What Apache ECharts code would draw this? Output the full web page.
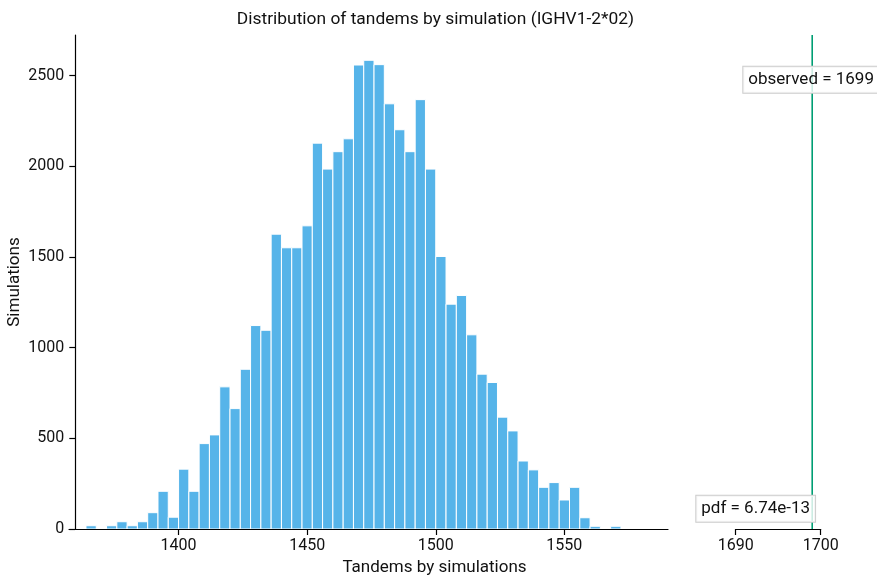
<!DOCTYPE html>
<html>
<head>
<meta charset="utf-8">
<script src="https://cdn.jsdelivr.net/npm/echarts@6/dist/echarts.min.js"></script>
<style>
html,body{margin:0;padding:0;background:#fff;}
#chart{width:877px;height:578px;}
</style>
</head>
<body>
<div id="chart"></div>
<script>
// ---- data ----
const binEdges = [1364,1368,1372,1376,1380,1384,1388,1392,1396,1400,1404,1408,1412,1416,1420,1424,1428,1432,1436,1440,1444,1448,1452,1456,1460,1464,1468,1472,1476,1480,1484,1488,1492,1496,1500,1504,1508,1512,1516,1520,1524,1528,1532,1536,1540,1544,1548,1552,1556,1560,1564,1568,1572];
const counts = [18,0,18,40,18,40,90,208,65,330,208,471,519,784,664,881,1122,1096,1626,1551,1551,1672,2128,1985,2081,2152,2559,2585,2561,2345,2202,2081,2368,1985,1503,1240,1288,1071,854,808,617,541,375,326,230,256,160,230,62,15,0,15];
const mainTicks = [1400,1450,1500,1550];
const sideTicks = [1690,1700];
const yTicks = [0,500,1000,1500,2000,2500];
const observed = 1699;
const pdfText = 'pdf = 6.74e-13';
const titleText = 'Distribution of tandems by simulation (IGHV1-2*02)';
const xTitle = 'Tandems by simulations';
const yTitle = 'Simulations';

const histData = counts.map((c, i) => [binEdges[i], binEdges[i + 1], c]);

const FONT = 'Roboto, "DejaVu Sans", sans-serif';
const TXT = '#111111';
const YMAX = 2724.5;
const plain = v => String(v);

const chart = echarts.init(document.getElementById('chart'), null, {renderer: 'canvas'});

chart.setOption({
  animation: false,
  backgroundColor: '#ffffff',
  grid: [
    {left: 69, top: 35, width: 599, height: 494, outerBoundsMode: 'none', containLabel: false},
    {left: 735.7, top: 35, width: 85, height: 494, outerBoundsMode: 'none', containLabel: false}
  ],
  xAxis: [
    {
      type: 'value', gridIndex: 0, min: 1357.4, max: 1590.3,
      axisLine: {show: true, onZero: false, lineStyle: {color: '#000', width: 1.2}},
      axisTick: {show: true, length: 6, customValues: mainTicks, lineStyle: {color: '#000', width: 1.2}},
      axisLabel: {show: true, customValues: mainTicks, formatter: plain, color: TXT, fontFamily: FONT, fontSize: 16, margin: 9},
      splitLine: {show: false}
    },
    {
      type: 'value', gridIndex: 1, min: 1690, max: 1700, interval: 10,
      axisLine: {show: true, onZero: false, lineStyle: {color: '#000', width: 1.2}},
      axisTick: {show: true, length: 6, customValues: sideTicks, lineStyle: {color: '#000', width: 1.2}},
      axisLabel: {show: true, customValues: sideTicks, formatter: plain, color: TXT, fontFamily: FONT, fontSize: 16, margin: 9},
      splitLine: {show: false}
    }
  ],
  yAxis: [
    {
      type: 'value', gridIndex: 0, min: 0, max: YMAX, interval: 500, offset: -6.3,
      axisLine: {show: true, lineStyle: {color: '#000', width: 1.2}},
      axisTick: {show: true, length: 6, customValues: yTicks, lineStyle: {color: '#000', width: 1.2}},
      axisLabel: {show: true, customValues: yTicks, formatter: plain, color: TXT, fontFamily: FONT, fontSize: 16, margin: 11},
      splitLine: {show: false}
    },
    {
      type: 'value', gridIndex: 1, min: 0, max: YMAX, show: false,
      splitLine: {show: false}
    }
  ],
  series: [
    {
      type: 'custom', xAxisIndex: 0, yAxisIndex: 0,
      data: histData,
      clip: true,
      renderItem: function (params, api) {
        const p0 = api.coord([api.value(0), api.value(2)]);
        const p1 = api.coord([api.value(1), 0]);
        return {
          type: 'rect',
          shape: {x: p0[0], y: p0[1], width: p1[0] - p0[0], height: p1[1] - p0[1]},
          style: {fill: '#56B4E9', stroke: '#ffffff', lineWidth: 1}
        };
      }
    },
    {
      type: 'custom', xAxisIndex: 1, yAxisIndex: 1,
      data: [[observed]],
      renderItem: function (params, api) {
        const top = api.coord([api.value(0), YMAX]);
        const bot = api.coord([api.value(0), 0]);
        return {
          type: 'line',
          shape: {x1: top[0], y1: top[1], x2: bot[0], y2: bot[1]},
          style: {stroke: '#009E73', lineWidth: 1.6}
        };
      }
    }
  ],
  graphic: [
    {
      type: 'text', x: 435.5, y: 19.5, z: 10,
      style: {text: titleText, fill: TXT, font: '17.4px ' + FONT, align: 'center', verticalAlign: 'middle'}
    },
    {
      type: 'text', x: 434.5, y: 568, z: 10,
      style: {text: xTitle, fill: TXT, font: '17px ' + FONT, align: 'center', verticalAlign: 'middle'}
    },
    {
      type: 'text', x: 14.5, y: 282, rotation: Math.PI / 2, z: 10,
      style: {text: yTitle, fill: TXT, font: '17px ' + FONT, align: 'center', verticalAlign: 'middle'}
    },
    {
      type: 'text', x: 743.3, y: 66.7, z: 20,
      style: {
        text: 'observed = ' + observed, fill: TXT, font: '17px ' + FONT,
        lineHeight: 18, padding: [4, 5, 4, 5],
        backgroundColor: 'rgba(255,255,255,0.8)', borderColor: '#cccccc', borderWidth: 1
      }
    },
    {
      type: 'text', x: 696.3, y: 495.7, z: 20,
      style: {
        text: pdfText, fill: TXT, font: '17px ' + FONT,
        lineHeight: 18, padding: [4, 5, 4, 5],
        backgroundColor: 'rgba(255,255,255,0.8)', borderColor: '#cccccc', borderWidth: 1
      }
    }
  ]
});
</script>
</body>
</html>
